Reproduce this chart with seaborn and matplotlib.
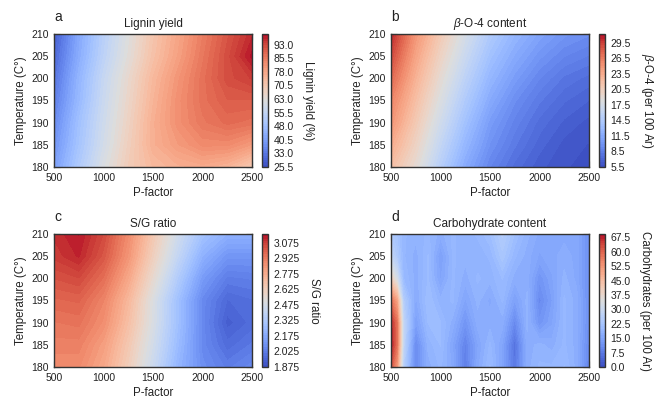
import numpy as np
import matplotlib
matplotlib.use("Agg")
import matplotlib.pyplot as plt
import seaborn as sns

sns.set_theme(style="ticks")
plt.rcParams['font.family'] = ['Liberation Sans', 'DejaVu Sans']
plt.rcParams['mathtext.fontset'] = 'custom'
plt.rcParams['mathtext.it'] = 'Liberation Sans:italic'
plt.rcParams['mathtext.rm'] = 'Liberation Sans'

# ---------------- data ----------------
p_factor = [500, 750, 1000, 1250, 1500, 1750, 2000, 2250, 2500]
temperature = [180, 185, 190, 195, 200, 205, 210]

# rows: temperature 180 -> 210 ; columns: p_factor
lignin_yield = [
    [40, 51, 61, 69, 74, 76, 77, 75, 70],
    [38, 49, 59, 68, 76, 80, 83, 83, 80],
    [36, 48, 58, 67, 76, 82, 86, 88, 87],
    [34, 46, 57, 66, 75, 82, 87, 90, 90],
    [32, 45, 56, 65, 74, 81, 87, 92, 94],
    [30, 43, 54, 63, 72, 79, 86, 92, 98],
    [28, 42, 53, 62, 71, 78, 85, 91, 96],
]

beta_o4 = [
    [22.0, 19.0, 15.0, 11.5, 9.0, 7.5, 6.5, 6.0, 5.7],
    [23.5, 20.0, 16.0, 12.5, 9.8, 8.2, 7.0, 6.2, 5.9],
    [25.0, 21.0, 17.0, 13.5, 10.5, 8.8, 7.5, 6.7, 6.2],
    [26.0, 22.0, 18.0, 14.5, 11.5, 9.5, 8.2, 7.3, 6.8],
    [27.5, 23.0, 19.0, 15.5, 12.5, 10.5, 9.0, 8.0, 7.5],
    [29.0, 24.0, 20.0, 16.5, 13.5, 11.5, 10.0, 9.0, 8.5],
    [30.5, 25.0, 21.0, 17.5, 14.5, 12.5, 11.0, 10.0, 9.5],
]

sg_ratio = [
    [2.88, 2.88, 2.79, 2.63, 2.43, 2.22, 2.08, 2.02, 2.06],
    [2.91, 2.91, 2.82, 2.66, 2.46, 2.25, 2.06, 1.97, 2.01],
    [2.94, 2.95, 2.87, 2.70, 2.49, 2.27, 2.06, 1.93, 1.97],
    [2.98, 2.99, 2.90, 2.73, 2.50, 2.27, 2.06, 1.96, 1.98],
    [3.03, 3.05, 2.96, 2.79, 2.56, 2.33, 2.12, 2.02, 2.03],
    [3.08, 3.12, 3.02, 2.85, 2.62, 2.40, 2.20, 2.10, 2.10],
    [3.10, 3.14, 3.05, 2.88, 2.66, 2.45, 2.28, 2.20, 2.20],
]

p_factor_carb = [500, 560, 625, 750, 875, 1000, 1125, 1250, 1375, 1500,
                 1625, 1750, 1875, 2000, 2125, 2250, 2375, 2500]
carbohydrates = [
    [62, 52, 26, 10, 17, 19, 16, 8, 16, 20, 15, 7, 17, 19, 19, 20, 17, 9],
    [68, 58, 28, 10, 18, 20, 15, 9, 15, 19, 15, 6, 17, 18, 17, 19, 17, 10],
    [67, 58, 28, 14, 20, 20, 17, 12, 17, 17, 17, 10, 18, 12, 15, 19, 17, 11],
    [58, 50, 25, 16, 21, 18, 19, 15, 18, 16, 19, 14, 18, 10, 14, 19, 17, 11],
    [40, 32, 20, 17, 20, 15, 19, 17, 19, 18, 20, 17, 17, 12, 15, 18, 16, 11],
    [28, 24, 19, 17, 20, 14, 19, 18, 18, 19, 23, 19, 17, 15, 16, 17, 16, 11],
    [24, 22, 19, 18, 19, 17, 19, 18, 19, 21, 25, 21, 18, 16, 16, 16, 16, 11],
]

panels = [
    dict(letter="a", title="Lignin yield", x=p_factor, z=lignin_yield,
         vmin=25.5, vmax=98.8, ticks=np.arange(25.5, 94, 7.5), fmt="%.1f",
         clabel="Lignin yield (%)"),
    dict(letter="b", title=r"$\it{\beta}$-O-4 content", x=p_factor, z=beta_o4,
         vmin=5.5, vmax=31.2, ticks=np.arange(5.5, 30, 3.0), fmt="%.1f",
         clabel=r"$\it{\beta}$-O-4 (per 100 Ar)"),
    dict(letter="c", title="S/G ratio", x=p_factor, z=sg_ratio,
         vmin=1.875, vmax=3.16, ticks=np.arange(1.875, 3.08, 0.15), fmt="%.3f",
         clabel="S/G ratio"),
    dict(letter="d", title="Carbohydrate content", x=p_factor_carb, z=carbohydrates,
         vmin=0.0, vmax=69.2, ticks=np.arange(0.0, 68, 7.5), fmt="%.1f",
         clabel="Carbohydrates (per 100 Ar)"),
]

cmap = sns.color_palette("coolwarm", as_cmap=True)

W, H = 654, 401
fig = plt.figure(figsize=(W / 100, H / 100), dpi=100)

ax_boxes = [(54, 34), (391, 34), (54, 234), (391, 234)]
ax_w, ax_h = 198, 133
cb_dx, cb_w = 208, 6

edge = "#333333"
for pan, (x0, y0) in zip(panels, ax_boxes):
    ax = fig.add_axes([x0 / W, 1 - (y0 + ax_h) / H, ax_w / W, ax_h / H])
    cax = fig.add_axes([(x0 + cb_dx) / W, 1 - (y0 + ax_h) / H, cb_w / W, ax_h / H])
    levels = np.linspace(pan["vmin"], pan["vmax"], 60)
    cf = ax.contourf(pan["x"], temperature, np.array(pan["z"]), levels=levels,
                     cmap=cmap, vmin=pan["vmin"], vmax=pan["vmax"])
    ax.set_xlim(500, 2500)
    ax.set_ylim(180, 210)
    ax.set_xticks([500, 1000, 1500, 2000, 2500])
    ax.set_yticks([180, 185, 190, 195, 200, 205, 210])
    ax.tick_params(direction="in", top=True, right=True, length=4, width=0.8,
                   color=edge, labelsize=7.5, pad=4, labelcolor="#222222")
    for s in ax.spines.values():
        s.set_color(edge)
        s.set_linewidth(1.0)
    ax.set_xlabel("P-factor", fontsize=8.3, labelpad=3, color="#222222")
    ax.set_ylabel("Temperature (C°)", fontsize=8.3, labelpad=3, color="#222222")
    ax.set_title(pan["title"], fontsize=8.5, pad=5, color="#222222")
    ax.annotate(pan["letter"], xy=(0, 1), xycoords="axes fraction",
                xytext=(0, 7), textcoords="offset points", fontsize=10,
                ha="left", va="bottom", color="#222222")

    cb = fig.colorbar(cf, cax=cax, ticks=pan["ticks"], format=pan["fmt"])
    cb.outline.set_edgecolor(edge)
    cb.outline.set_linewidth(1.0)
    cax.tick_params(direction="in", left=True, right=True, length=3, width=0.7,
                    color=edge, labelsize=7.5, pad=4, labelcolor="#222222")
    cb.set_label(pan["clabel"], rotation=270, fontsize=8.3, labelpad=6,
                 color="#222222", va="bottom")

fig.savefig("out.png", dpi=100)
